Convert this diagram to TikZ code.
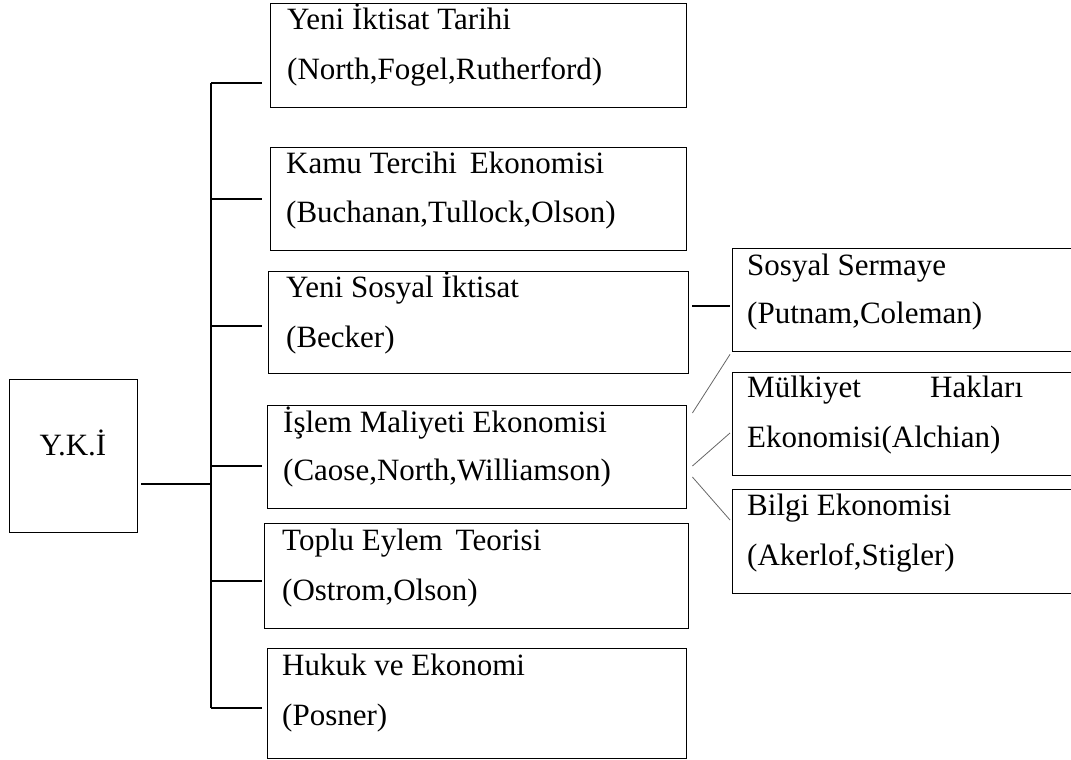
\documentclass[tikz,border=0pt]{standalone}
\usepackage{fontspec}
\setmainfont{Liberation Serif}
\usetikzlibrary{positioning}
\tikzset{
  kutu/.style={draw, line width=1.4pt, inner sep=0pt, anchor=north west},
  yazi/.style={anchor=base west, inner sep=0pt, font=\fontsize{31}{36}\selectfont},
  dal/.style={line width=1.6pt},
  ince/.style={line width=0.8pt, black!60}
}
\begin{document}
\begin{tikzpicture}[x=1pt, y=-1pt]
\useasboundingbox (0,0) rectangle (1071,760);
%main box

\node[kutu, minimum width=128pt, minimum height=153pt] (yki) at (9,379) {};
\node[anchor=base, inner sep=0pt, font=\fontsize{31}{36}\selectfont] (ykiyazi) at (73,455) {Y.K.İ};

%left column of boxes

\node[kutu, minimum width=416pt, minimum height=104pt] (yit) at (270,3) {};
\node[kutu, minimum width=416pt, minimum height=103pt] (kte) at (270,147) {};
\node[kutu, minimum width=420pt, minimum height=102pt] (ysi) at (268,271) {};
\node[kutu, minimum width=419pt, minimum height=103pt] (ime) at (267,405) {};
\node[kutu, minimum width=424pt, minimum height=105pt] (tet) at (264,523) {};
\node[kutu, minimum width=419pt, minimum height=110pt] (hve) at (267,648) {};

%right column of boxes

\node[kutu, minimum width=350pt, minimum height=103pt] (sos) at (732,248) {};
\node[kutu, minimum width=350pt, minimum height=103pt] (mul) at (732,372) {};
\node[kutu, minimum width=350pt, minimum height=104pt] (bil) at (732,489) {};

%texts of boxes

\node[yazi] (yit1) at ([shift={(17,27)}]yit.north west) {Yeni İktisat Tarihi};
\node[yazi] (yit2) at ([shift={(17,77)}]yit.north west) {(North,Fogel,Rutherford)};
\node[yazi] (kte1) at ([shift={(16,26)}]kte.north west) {Kamu Tercihi\, Ekonomisi};
\node[yazi] (kte2) at ([shift={(16,75)}]kte.north west) {(Buchanan,Tullock,Olson)};
\node[yazi] (ysi1) at ([shift={(18,26)}]ysi.north west) {Yeni Sosyal İktisat};
\node[yazi] (ysi2) at ([shift={(18,76)}]ysi.north west) {(Becker)};
\node[yazi] (ime1) at ([shift={(16,27)}]ime.north west) {İşlem Maliyeti Ekonomisi};
\node[yazi] (ime2) at ([shift={(16,75)}]ime.north west) {(Caose,North,Williamson)};
\node[yazi] (tet1) at ([shift={(18,27)}]tet.north west) {Toplu Eylem\, Teorisi};
\node[yazi] (tet2) at ([shift={(18,77)}]tet.north west) {(Ostrom,Olson)};
\node[yazi] (hve1) at ([shift={(15,27)}]hve.north west) {Hukuk ve Ekonomi};
\node[yazi] (hve2) at ([shift={(15,77)}]hve.north west) {(Posner)};

\node[yazi] (sos1) at ([shift={(15,27)}]sos.north west) {Sosyal Sermaye};
\node[yazi] (sos2) at ([shift={(15,75)}]sos.north west) {(Putnam,Coleman)};
\node[yazi] (mul1) at ([shift={(15,25)}]mul.north west) {Mülkiyet};
\node[yazi] (mul3) at ([shift={(198,25)}]mul.north west) {Hakları};
\node[yazi] (mul2) at ([shift={(15,75)}]mul.north west) {Ekonomisi(Alchian)};
\node[yazi] (bil1) at ([shift={(15,26)}]bil.north west) {Bilgi Ekonomisi};
\node[yazi] (bil2) at ([shift={(15,76)}]bil.north west) {(Akerlof,Stigler)};

%trunk and branches

\coordinate (top) at (211,83);
\coordinate (bot) at (211,708);
\coordinate (K) at (211,484);
\draw[dal] (top) -- (bot);
\draw[dal] (yki.east |- K) ++(3,0) -- (K);
\draw[dal] (top) -- ([xshift=-8pt]top -| yit.west);
\draw[dal] (211,199) -- ([xshift=-8pt]kte.west |- 0,199);
\draw[dal] (211,326) -- ([xshift=-6pt]ysi.west |- 0,326);
\draw[dal] (211,466) -- ([xshift=-5pt]ime.west |- 0,466);
\draw[dal] (211,581) -- ([xshift=-2pt]tet.west |- 0,581);
\draw[dal] (bot) -- ([xshift=-5pt]bot -| hve.west);

%side links

\draw[dal] ([shift={(3,35)}]ysi.north east) -- ([shift={(-2,58)}]sos.north west);
\draw[ince] ([shift={(5,8)}]ime.north east) -- ([shift={(-2,2)}]sos.south west);
\draw[ince] ([shift={(5,61)}]ime.north east) -- ([shift={(-2,61)}]mul.north west);
\draw[ince] ([shift={(5,72)}]ime.north east) -- ([shift={(-2,31)}]bil.north west);
\end{tikzpicture}
\end{document}
